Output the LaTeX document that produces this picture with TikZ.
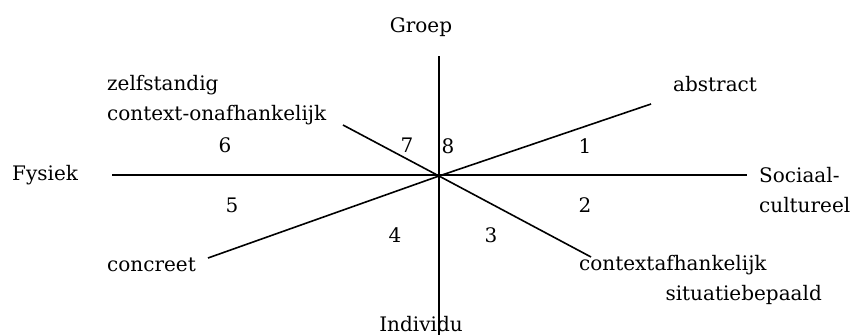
\documentclass[tikz,border=0pt]{standalone}
\usepackage{fontspec}
\setmainfont{DejaVu Serif}
\tikzset{
  lbl/.style={inner sep=0pt, font=\fontsize{20}{30}\selectfont},
  axis/.style={line width=1.6pt, black}
}
\begin{document}
\begin{tikzpicture}[x=1pt, y=-1pt]
        \useasboundingbox (0,0) rectangle (854,335);
        \coordinate (o) at (439,176);
        \coordinate (top) at (439,56);
        \coordinate (bot) at (439,335);
        \coordinate (left) at (112,175);
        \coordinate (right) at (747,175);
        \coordinate (abs) at (651,104);
        \coordinate (conc) at (208,258);
        \coordinate (ctxl) at (343,125);
        \coordinate (ctxr) at (591,257);
        \draw[axis] (top) -- (bot);
        \draw[axis] (left) -- (right);
        \draw[axis] (abs) -- (o) -- (conc);
        \draw[axis] (ctxl) -- (o) -- (ctxr);
        \node[name=groep, lbl] at (421,27) {Groep};
        \node[name=indiv, lbl] at (421,324) {Individu};
        \node[name=fys, lbl, anchor=west] at (12,175) {Fysiek};
        \node[name=soc, lbl, anchor=west, align=left] at (759,190) {Sociaal-\\cultureel};
        \node[name=zelf, lbl, anchor=west, align=left] at (107,100) {zelfstandig\\context-onafhankelijk};
        \node[name=abstr, lbl, anchor=west] at (673,84) {abstract};
        \node[name=concr, lbl, anchor=west] at (107,265) {concreet};
        \node[name=ctxa, lbl, anchor=west] at (579,265) {contextafhankelijk};
        \node[name=sit, lbl, anchor=east] at (822,295) {situatiebepaald};
        \node[name=n1, lbl] at (585,146) {1};
        \node[name=n2, lbl] at (585,205) {2};
        \node[name=n3, lbl] at (491,235) {3};
        \node[name=n4, lbl] at (395,235) {4};
        \node[name=n5, lbl] at (232,205) {5};
        \node[name=n6, lbl] at (225,145) {6};
        \node[name=n7, lbl] at (407,145) {7};
        \node[name=n8, lbl] at (448,146) {8};
    \end{tikzpicture}
\end{document}
